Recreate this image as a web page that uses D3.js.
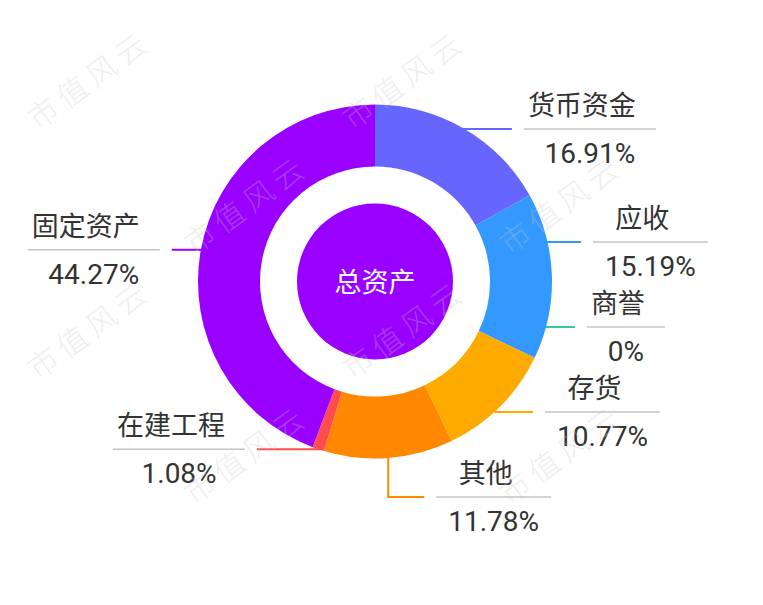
<!DOCTYPE html>
<html>
<head>
<meta charset="utf-8">
<script src="https://cdn.jsdelivr.net/npm/d3@7"></script>
<style>
  html, body { margin: 0; padding: 0; background: #fff; }
  text { font-family: Roboto, "Noto Sans CJK SC", sans-serif; }
</style>
</head>
<body>
<div id="chart"></div>
<script>
// 资产构成 (%)
var names = ["货币资金", "应收", "商誉", "存货", "其他", "在建工程", "固定资产"];
var values = [16.91, 15.19, 0, 10.77, 11.78, 1.08, 44.27];
var colors = ["#6666ff", "#3399ff", "#33cc99", "#ffaa00", "#ff8800", "#ff4d4d", "#9900ff"];
var centerLabel = "总资产";
var watermark = "市值风云";

var width = 763, height = 605;
var cx = 375, cy = 281.5;
var outerR = 177, innerR = 115, coreR = 78;
var anchorR = 170, lineR = 205, gap = 85;
var minY = -outerR - 38.5, maxY = outerR + 38.5;

var svg = d3.select("#chart")
   .append("svg")
   .attr("width", width)
   .attr("height", height);

var g = svg.append("g")
   .attr("transform", `translate(${cx}, ${cy})`);

var pie = d3.pie().sort(null).value(function (d) { return d; });
var arcs = pie(values);

var arc = d3.arc().innerRadius(innerR).outerRadius(outerR);

// label positions: ideal y at slice middle, then shift to avoid overlaps
var items = arcs.map(function (d, i) {
   var mid = (d.startAngle + d.endAngle) / 2;
   return {
      i: i,
      right: Math.sin(mid) >= 0,
      ax: anchorR * Math.sin(mid),
      ay: -anchorR * Math.cos(mid),
      ideal: -outerR * Math.cos(mid)
   };
});

function spread(list) {
   list.sort(function (a, b) { return a.ideal - b.ideal; });
   var prev = minY - gap;
   list.forEach(function (d) {
      d.y = Math.max(d.ideal, prev + gap);
      prev = d.y;
   });
   var next = maxY + gap;
   for (var k = list.length - 1; k >= 0; k--) {
      list[k].y = Math.min(list[k].y, next - gap);
      next = list[k].y;
   }
}
spread(items.filter(function (d) { return d.right; }));
spread(items.filter(function (d) { return !d.right; }));

items.forEach(function (d) {
   var dy = d.y;
   var reach = Math.abs(dy) < lineR ? Math.sqrt(lineR * lineR - dy * dy) : 0;
   if (d.right) d.ex = Math.max(reach, d.ax + 36);
   else d.ex = Math.min(-reach, d.ax - 36);
});

// leader lines (under the ring)
var line = d3.line();
g.selectAll(".leader")
   .data(items)
   .enter().append("path")
   .attr("class", "leader")
   .attr("d", function (d) { return line([[d.ax, d.ay], [d.ax, d.y], [d.ex, d.y]]); })
   .style("fill", "none")
   .style("stroke", function (d) { return colors[d.i]; })
   .style("stroke-width", 2);

// ring
g.selectAll(".slice")
   .data(arcs)
   .enter().append("path")
   .attr("class", "slice")
   .attr("d", arc)
   .style("fill", function (d, i) { return colors[i]; });

// center
g.append("circle")
   .attr("r", coreR)
   .style("fill", "#9900ff");

g.append("text")
   .attr("x", 0)
   .attr("y", 1)
   .attr("text-anchor", "middle")
   .attr("dominant-baseline", "central")
   .style("font-size", "27px")
   .style("fill", "#fff")
   .text(centerLabel);

// labels
var labels = g.selectAll(".label")
   .data(items)
   .enter().append("g")
   .attr("class", "label");

labels.each(function (d) {
   var sel = d3.select(this);
   var nameText = sel.append("text")
      .attr("text-anchor", "middle")
      .style("font-size", "27px")
      .style("fill", "#333")
      .text(names[d.i]);
   var valText = sel.append("text")
      .attr("text-anchor", "middle")
      .style("font-size", "28px")
      .style("fill", "#333")
      .text(values[d.i] + "%");
   var w = Math.max(nameText.node().getComputedTextLength(),
      valText.node().getComputedTextLength()) + 24;
   var x1 = d.right ? d.ex + 12 : d.ex - 12 - w;
   var xm = x1 + w / 2;
   sel.append("line")
      .attr("x1", x1)
      .attr("x2", x1 + w)
      .attr("y1", d.y)
      .attr("y2", d.y)
      .style("stroke", "#c4c4c4")
      .style("stroke-width", 1.5);
   nameText.attr("x", xm - 8).attr("y", d.y - 14);
   valText.attr("x", xm).attr("y", d.y + 34);
});

// watermark, only where it fits inside the picture
var wm = svg.append("g").style("pointer-events", "none");
for (var r = 0; r < 5; r++) {
   for (var c = -1; c < 4; c++) {
      var wx = 88 + c * 315 + (r % 2) * 157;
      var wy = 78 + r * 125;
      if (wx < 62 || wx > width - 62 || wy < 48 || wy > height - 48) continue;
      wm.append("text")
         .attr("transform", `translate(${wx}, ${wy}) rotate(-36)`)
         .attr("text-anchor", "middle")
         .attr("dominant-baseline", "central")
         .style("font-size", "30px")
         .style("letter-spacing", "6px")
         .style("font-family", "'Noto Sans CJK SC', sans-serif")
         .style("font-weight", 300)
         .style("fill", "#c8c8c8")
         .style("opacity", 0.3)
         .text(watermark);
   }
}
</script>
</body>
</html>
